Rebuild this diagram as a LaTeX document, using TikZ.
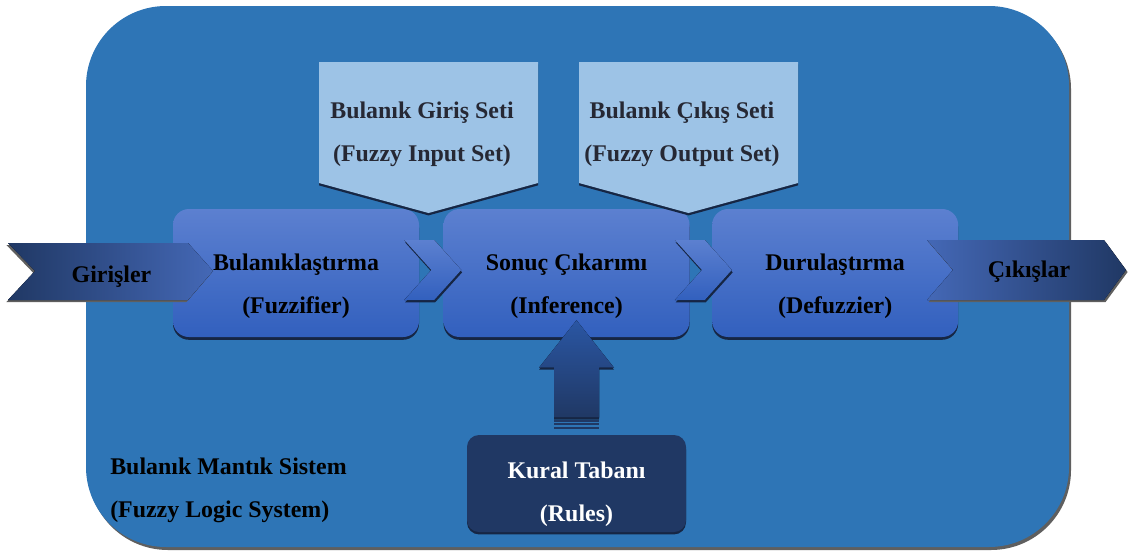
\documentclass[tikz,border=0pt]{standalone}
\usepackage{fontspec}
\setmainfont{Liberation Serif}
\usetikzlibrary{positioning, calc, shadows}
\definecolor{sysblue}{RGB}{46,117,182}
\definecolor{navy}{RGB}{32,56,100}
\definecolor{navydark}{RGB}{22,38,68}
\definecolor{setblue}{RGB}{157,195,230}
\definecolor{boxtop}{RGB}{92,128,208}
\definecolor{boxbot}{RGB}{50,96,190}
\definecolor{chevlight}{RGB}{68,104,182}
\definecolor{arrowtop}{RGB}{42,86,163}
\definecolor{shadegray}{RGB}{95,95,95}
\definecolor{settext}{RGB}{38,40,52}

\tikzset{
  stage/.style={rectangle, rounded corners=4mm, top color=boxtop, bottom color=boxbot,
    minimum width=6.15cm, minimum height=3.2cm,
    drop shadow={shadow xshift=0pt, shadow yshift=-0.7mm, fill=navydark, opacity=1}},
  lbl/.style={font=\fontsize{17}{30.5}\selectfont\bfseries, align=center, inner sep=0pt},
  link/.style={top color=boxtop, bottom color=boxbot,
    drop shadow={shadow xshift=0.2mm, shadow yshift=-0.6mm, fill=navydark, opacity=1}},
  fuzzyset/.style={fill=setblue,
    drop shadow={shadow xshift=0pt, shadow yshift=-0.6mm, fill=navydark, opacity=1}}
}

\begin{document}
\begin{tikzpicture}[x=0.25mm, y=-0.25mm]
  \useasboundingbox (0,0) rectangle (1128,554);
  % system frame
  \fill[shadegray, rounded corners=20mm] (88,9) rectangle (1071,550);
  \fill[sysblue, rounded corners=20mm] (86,6) rectangle (1069,547);

  % stages
  \node[stage] (fuzz) at (296,273) {};
  \node[stage, right=0.6cm of fuzz] (infer) {};
  \node[stage, right=0.55cm of infer] (defuzz) {};
  \foreach \a in {fuzz, infer}
    \fill[link] ($(\a.east)+(-15,-33)$) -- ++(30,0) -- ++(27,30) -- ++(-27,30)
      -- ++(-30,0) -- ++(27,-30) -- cycle;
  \node[lbl] (fuzzt) at ($(fuzz)+(0,13)$) {Bulanıklaştırma\\(Fuzzifier)};
  \node[lbl] (infert) at ($(infer)+(0,13)$) {Sonuç Çıkarımı\\(Inference)};
  \node[lbl] (defuzzt) at ($(defuzz)+(0,13)$) {Durulaştırma\\(Defuzzier)};

  % fuzzy sets
  \fill[fuzzyset] (319,62) -- (538,62) -- (538,183) -- (428.5,213) -- (319,183) -- cycle;
  \fill[fuzzyset] (579,62) -- (798,62) -- (798,183) -- (688.5,213) -- (579,183) -- cycle;
  \node[lbl, text=settext] (inset) at (422,134) {Bulanık Giriş Seti\\(Fuzzy Input Set)};
  \node[lbl, text=settext] (outset) at (682,134) {Bulanık Çıkış Seti\\(Fuzzy Output Set)};

  % inputs and outputs
  \fill[left color=navy, right color=chevlight,
    drop shadow={shadow xshift=-0.4mm, shadow yshift=-0.5mm, fill=shadegray, opacity=1}]
    (8,243) -- (188,243) -- (213,271) -- (188,300) -- (8,300) -- (35,271) -- cycle;
  \fill[left color=chevlight, right color=navy,
    drop shadow={shadow xshift=0.4mm, shadow yshift=-0.5mm, fill=shadegray, opacity=1}]
    (927,240) -- (1104,240) -- (1126,270) -- (1104,300) -- (927,300) -- (953,270) -- cycle;
  \node[lbl] (inp) at (111.5,277) {Girişler};
  \node[lbl] (outp) at (1029,272) {Çıkışlar};

  % rule base
  \node[rectangle, rounded corners=3mm, fill=navy, minimum width=5.475cm, minimum height=2.425cm,
    drop shadow={shadow xshift=0pt, shadow yshift=-0.6mm, fill=navydark, opacity=1}]
    (rules) at (576.5,483.5) {};
  \node[lbl, text=white] (rulest) at ($(rules)+(0,10.5)$) {Kural Tabanı\\(Rules)};
  \fill[top color=arrowtop, bottom color=navy,
    drop shadow={shadow xshift=0pt, shadow yshift=-0.5mm, fill=navydark, opacity=1}]
    ($(rules.north)+(-22.5,-17)$) -- ++(0,-50) -- ++(-15,0)
    -- ($(infer.south -| rules.north)+(0,-17)$)
    -- ($(rules.north)+(37.5,-67)$) -- ++(-15,0) -- ++(0,50) -- cycle;
  \foreach \d in {-13,-9.5,-6}
    \fill[navy] ($(rules.north)+(-22.5,\d)$) rectangle ++(45,-2);
  \node[lbl, align=left, anchor=west] (sys) at (110,490) {Bulanık Mantık Sistem\\(Fuzzy Logic System)};
\end{tikzpicture}
\end{document}
